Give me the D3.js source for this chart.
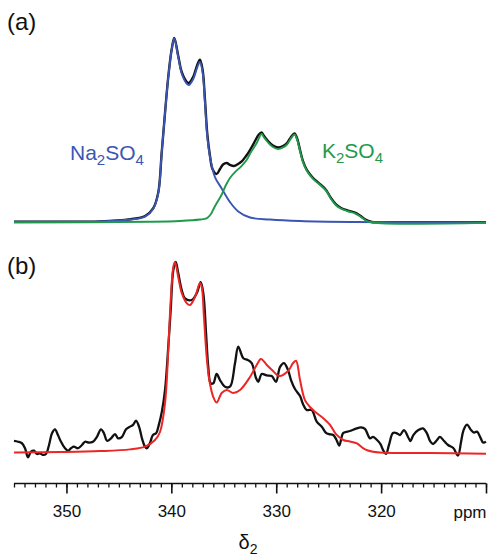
<!DOCTYPE html>
<html>
<head>
<meta charset="utf-8">
<script src="https://cdn.jsdelivr.net/npm/d3@7"></script>
<style>
  body { margin: 0; background: #fff; }
  svg { display: block; font-family: "Liberation Sans", Arial, Helvetica, sans-serif; }
</style>
</head>
<body>
<div id="d3"></div>
<script>
// [ppm, intensity]
var naFit = [
    [355.0, 0.004], [350.6, 0.004], [346.8, 0.006], [343.9, 0.016], [342.5, 0.032],
    [341.72, 0.075], [341.24, 0.16], [340.92, 0.378], [340.60, 0.595], [340.29, 0.791],
    [339.97, 0.938], [339.72, 1.000], [339.34, 0.899], [339.01, 0.810], [338.54, 0.755],
    [338.32, 0.747], [337.91, 0.780], [337.52, 0.845], [337.27, 0.872], [337.01, 0.813],
    [336.79, 0.649], [336.57, 0.465], [336.31, 0.356], [335.84, 0.247], [335.20, 0.185],
    [334.41, 0.111], [333.62, 0.060], [332.50, 0.027], [330.59, 0.016], [327.73, 0.008],
    [322.97, 0.003], [310.0, 0.001]
];

var kFit = [
    [355.0, 0.0], [342.03, 0.004], [339.17, 0.008], [337.27, 0.016], [336.60, 0.024],
    [336.22, 0.046], [335.93, 0.079], [335.55, 0.117], [335.17, 0.155], [334.79, 0.204],
    [334.41, 0.242], [333.93, 0.274], [333.36, 0.304], [332.82, 0.340], [332.41, 0.383],
    [331.86, 0.432], [331.40, 0.481], [331.16, 0.462], [330.78, 0.435], [330.31, 0.410],
    [329.83, 0.399], [329.35, 0.408], [328.97, 0.424], [328.59, 0.457], [328.26, 0.478],
    [328.02, 0.453], [327.73, 0.389], [327.45, 0.329], [327.07, 0.280], [326.49, 0.237],
    [325.83, 0.205], [325.25, 0.173], [324.78, 0.129], [324.30, 0.094], [323.82, 0.075],
    [323.16, 0.061], [322.49, 0.050], [322.01, 0.034], [321.44, 0.011], [320.87, 0.0],
    [310.0, -0.002]
];

var spectrumA = [
    [355.0, 0.004], [350.6, 0.004], [346.8, 0.006], [343.9, 0.018], [342.5, 0.035],
    [341.72, 0.078], [341.24, 0.165], [340.92, 0.378], [340.60, 0.597], [340.29, 0.793],
    [339.97, 0.940], [339.72, 1.003], [339.34, 0.905], [339.01, 0.818], [338.54, 0.765],
    [338.32, 0.758], [337.91, 0.792], [337.52, 0.858], [337.27, 0.885], [337.01, 0.826],
    [336.79, 0.665], [336.57, 0.48], [336.31, 0.36], [336.08, 0.291], [335.68, 0.264],
    [335.36, 0.291], [335.07, 0.315], [334.72, 0.323], [334.41, 0.313], [334.03, 0.307],
    [333.64, 0.318], [333.26, 0.334], [332.88, 0.361], [332.50, 0.394], [332.02, 0.443],
    [331.69, 0.476], [331.40, 0.489], [331.16, 0.470], [330.78, 0.443], [330.31, 0.418],
    [329.83, 0.408], [329.35, 0.416], [328.97, 0.432], [328.59, 0.465], [328.26, 0.484],
    [328.02, 0.459], [327.73, 0.394], [327.45, 0.334], [327.07, 0.285], [326.49, 0.242],
    [325.83, 0.209], [325.25, 0.177], [324.78, 0.133], [324.30, 0.098], [323.82, 0.079],
    [323.16, 0.065], [322.49, 0.054], [322.01, 0.038], [321.44, 0.014], [320.87, 0.003],
    [318.2, 0.002], [310.0, 0.001]
];

var spectrumB = [
    [355.00, 0.063], [354.62, 0.059], [354.24, 0.051], [353.95, 0.025], [353.67, -0.023],
    [353.38, 0.007], [353.09, 0.012], [352.81, -0.005], [352.52, -0.002], [352.24, -0.010],
    [351.95, -0.005], [351.66, 0.042], [351.38, 0.103], [351.09, 0.124], [350.81, 0.094],
    [350.52, 0.059], [350.14, 0.025], [349.85, 0.012], [349.57, 0.025], [349.28, 0.033],
    [348.90, 0.025], [348.52, 0.042], [348.23, 0.059], [347.85, 0.054], [347.47, 0.059],
    [347.09, 0.085], [346.71, 0.124], [346.42, 0.103], [346.13, 0.064], [345.75, 0.077],
    [345.37, 0.099], [345.08, 0.077], [344.70, 0.085], [344.32, 0.124], [343.94, 0.138],
    [343.65, 0.147], [343.37, 0.169], [343.08, 0.138], [342.80, 0.077], [342.51, 0.033],
    [342.32, 0.025], [342.03, 0.054], [341.75, 0.094], [341.46, 0.103], [341.18, 0.150],
    [340.89, 0.220], [340.60, 0.330], [340.29, 0.557], [340.06, 0.749], [339.81, 0.958],
    [339.58, 1.000], [339.34, 0.941], [339.01, 0.853], [338.70, 0.810], [338.06, 0.801],
    [337.58, 0.836], [337.20, 0.894], [336.95, 0.836], [336.69, 0.627], [336.48, 0.452],
    [336.25, 0.365], [336.00, 0.365], [335.68, 0.414], [335.36, 0.382], [334.88, 0.347],
    [334.41, 0.347], [333.93, 0.470], [333.62, 0.557], [333.14, 0.496], [332.72, 0.487],
    [332.34, 0.471], [331.93, 0.393], [331.71, 0.373], [331.38, 0.414], [330.91, 0.406],
    [330.43, 0.403], [330.02, 0.373], [329.64, 0.450], [329.26, 0.471], [328.88, 0.435],
    [328.59, 0.382], [328.21, 0.335], [327.73, 0.298], [327.45, 0.257], [327.10, 0.225],
    [326.62, 0.225], [326.14, 0.164], [325.66, 0.138], [325.25, 0.105], [324.97, 0.099],
    [324.56, 0.094], [324.25, 0.068], [323.99, 0.039], [323.60, 0.105], [322.97, 0.115],
    [322.33, 0.129], [321.92, 0.134], [321.54, 0.126], [321.06, 0.077], [320.77, 0.084],
    [320.39, 0.068], [320.06, 0.047], [319.82, 0.016], [319.53, -0.005], [319.25, 0.042],
    [318.87, 0.105], [318.49, 0.103], [318.20, 0.094], [317.82, 0.120], [317.41, 0.081],
    [317.20, 0.062], [316.93, 0.094], [316.45, 0.120], [316.01, 0.129], [315.63, 0.103],
    [315.34, 0.063], [315.05, 0.047], [314.67, 0.068], [314.39, 0.084], [314.00, 0.063],
    [313.62, 0.042], [313.12, 0.026], [312.67, -0.013], [312.38, 0.058], [312.14, 0.120],
    [311.81, 0.149], [311.43, 0.120], [311.14, 0.107], [310.85, 0.112], [310.52, 0.079],
    [310.28, 0.055], [310.00, 0.059]
];

var fitB = [
    [355.0, 0.002], [350.61, 0.005], [346.80, 0.010], [343.94, 0.019], [342.51, 0.033],
    [341.56, 0.068], [341.08, 0.110], [340.60, 0.262], [340.29, 0.539], [340.06, 0.801],
    [339.81, 0.974], [339.65, 1.000], [339.34, 0.921], [339.01, 0.838], [338.54, 0.785],
    [338.22, 0.775], [337.74, 0.817], [337.27, 0.890], [337.10, 0.869], [336.89, 0.712],
    [336.63, 0.503], [336.38, 0.382], [336.00, 0.293], [335.68, 0.264], [335.20, 0.314],
    [334.72, 0.330], [334.09, 0.314], [333.45, 0.330], [332.50, 0.398], [331.86, 0.461],
    [331.45, 0.492], [330.90, 0.461], [330.40, 0.435], [329.70, 0.403], [328.87, 0.429],
    [328.39, 0.471], [328.11, 0.483], [327.73, 0.382], [327.26, 0.277], [326.78, 0.241],
    [326.30, 0.216], [325.51, 0.182], [324.87, 0.147], [324.30, 0.099], [323.61, 0.068],
    [322.97, 0.060], [322.30, 0.050], [321.73, 0.026], [321.25, 0.013], [320.11, 0.002],
    [315.34, 0.0], [310.0, -0.004]
];

var majorTicks = [350, 340, 330, 320, 310];
var tickLabels = ["350", "340", "330", "320", ""];
var minorTicks = d3.range(355, 309, -1);

var blue = "#3b55b3";
var green = "#1f9a4b";
var red = "#ec2624";

var width = 490;
var height = 556;

var svg = d3.select("#d3").append("svg").attr("width", width).attr("height", height);

var x = d3.scaleLinear().domain([355, 310]).range([14, 486]);
var yA = d3.scaleLinear().domain([0, 1]).range([222.5, 38.5]);
var yB = d3.scaleLinear().domain([0, 1]).range([453, 262]);

var lineA = d3.line()
    .x(function(d) { return x(d[0]); })
    .y(function(d) { return yA(d[1]); })
    .curve(d3.curveCatmullRom.alpha(0.5));

var lineB = d3.line()
    .x(function(d) { return x(d[0]); })
    .y(function(d) { return yB(d[1]); })
    .curve(d3.curveCatmullRom.alpha(0.5));

// panel (a)
svg.append("path").attr("d", lineA(spectrumA)).attr("fill", "none").attr("stroke", "#111").attr("stroke-width", 2.4);
svg.append("path").attr("d", lineA(naFit)).attr("fill", "none").attr("stroke", blue).attr("stroke-width", 1.9);
svg.append("path").attr("d", lineA(kFit)).attr("fill", "none").attr("stroke", green).attr("stroke-width", 1.9);

// panel (b)
svg.append("path").attr("d", lineB(spectrumB)).attr("fill", "none").attr("stroke", "#111").attr("stroke-width", 2.3);
svg.append("path").attr("d", lineB(fitB)).attr("fill", "none").attr("stroke", red).attr("stroke-width", 2);

// panel letters
svg.append("text").attr("x", 7).attr("y", 30).attr("font-size", 24).attr("fill", "#111").text("(a)");
svg.append("text").attr("x", 7).attr("y", 274).attr("font-size", 24).attr("fill", "#111").text("(b)");

function formula(g, px, py, color, parts) {
    var t = g.append("text").attr("x", px).attr("y", py).attr("font-size", 21).attr("fill", color);
    parts.forEach(function(p) {
        if (p.sub) {
            t.append("tspan").attr("font-size", 15).attr("dy", 5).text(p.s);
        } else {
            t.append("tspan").attr("dy", p.back ? -5 : 0).text(p.s);
        }
    });
}
formula(svg, 70, 160, blue, [{s: "Na"}, {s: "2", sub: true}, {s: "SO", back: true}, {s: "4", sub: true}]);
formula(svg, 322, 158, green, [{s: "K"}, {s: "2", sub: true}, {s: "SO", back: true}, {s: "4", sub: true}]);

// x axis
var axisY = 483.5;
var minorAxis = d3.axisBottom(x).tickValues(minorTicks).tickSize(4).tickFormat("");
var majorAxis = d3.axisBottom(x).tickValues(majorTicks).tickSize(10).tickPadding(11)
    .tickFormat(function(d, i) { return tickLabels[i]; });

var gMinor = svg.append("g").attr("transform", "translate(0," + axisY + ")").call(minorAxis);
var gMajor = svg.append("g").attr("transform", "translate(0," + axisY + ")").call(majorAxis);
gMinor.select(".domain").remove();
gMajor.select(".domain").attr("stroke", "#111").attr("stroke-width", 1.6).attr("d", "M14,0H486");
gMinor.selectAll(".tick line").attr("stroke", "#111").attr("stroke-width", 1.3);
gMajor.selectAll(".tick line").attr("stroke", "#111").attr("stroke-width", 1.6);
gMajor.selectAll(".tick text").attr("font-size", 17).attr("fill", "#111")
    .attr("font-family", "'Liberation Sans', Arial, sans-serif");

svg.append("text").attr("x", 470).attr("y", axisY + 34).attr("text-anchor", "middle")
    .attr("font-size", 17).attr("fill", "#111").text("ppm");

var dl = svg.append("text").attr("x", 248).attr("y", 549).attr("text-anchor", "middle")
    .attr("font-size", 20).attr("fill", "#111");
dl.append("tspan").text("δ");
dl.append("tspan").attr("font-size", 14).attr("dy", 5).text("2");
</script>
</body>
</html>
